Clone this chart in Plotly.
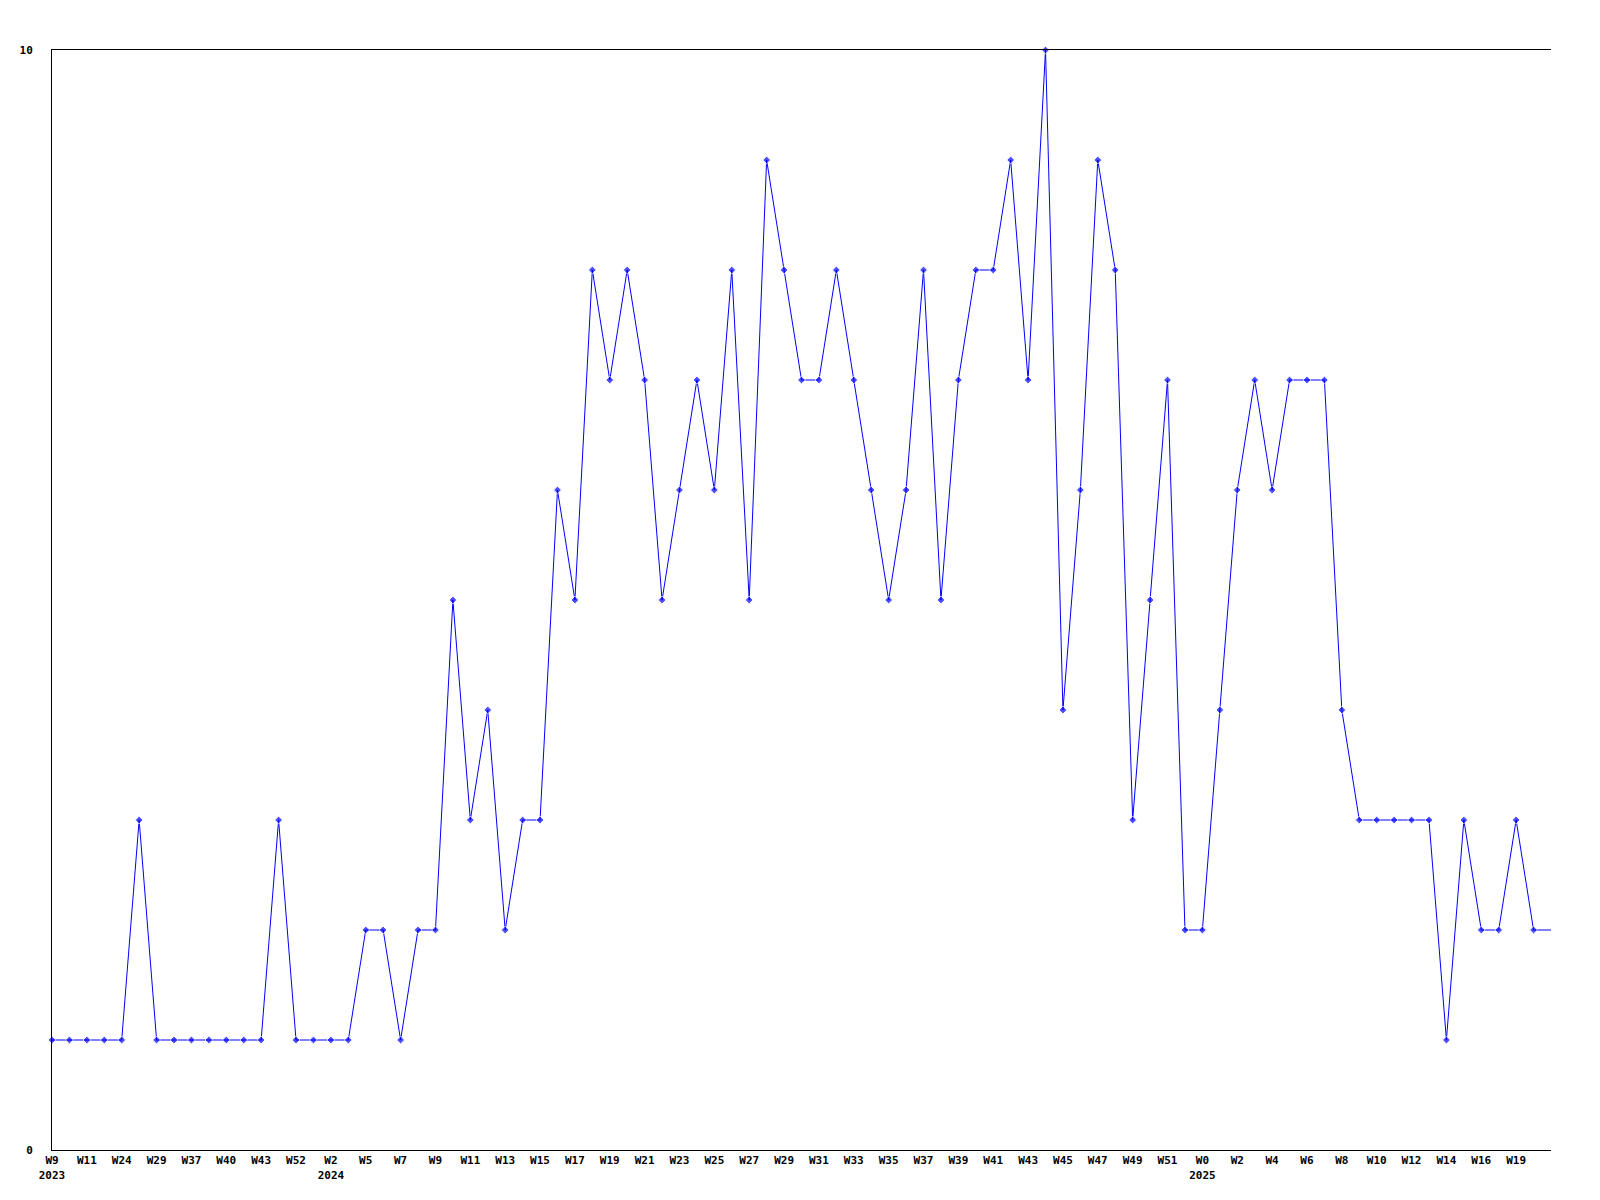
import plotly.graph_objects as go

# Week categories (one per data point); unlabeled ones are estimates
weeks = [
    "W9", "W10", "W11", "W20", "W24", "W26", "W29", "W33", "W37", "W38",
    "W40", "W41", "W43", "W44", "W52", "W1", "W2", "W4", "W5", "W6",
    "W7", "W8", "W9", "W10", "W11", "W12", "W13", "W14", "W15", "W16",
    "W17", "W18", "W19", "W20", "W21", "W22", "W23", "W24", "W25", "W26",
    "W27", "W28", "W29", "W30", "W31", "W32", "W33", "W34", "W35", "W36",
    "W37", "W38", "W39", "W40", "W41", "W42", "W43", "W44", "W45", "W46",
    "W47", "W48", "W49", "W50", "W51", "W52", "W0", "W1", "W2", "W3",
    "W4", "W5", "W6", "W7", "W8", "W9", "W10", "W11", "W12", "W13",
    "W14", "W15", "W16", "W18", "W19", "W20", "W21",
]
# Year shown under the first labeled week of each year
year_labels = {0: "2023", 16: "2024", 66: "2025"}

values = [
    1, 1, 1, 1, 1, 3, 1, 1, 1, 1,
    1, 1, 1, 3, 1, 1, 1, 1, 2, 2,
    1, 2, 2, 5, 3, 4, 2, 3, 3, 6,
    5, 8, 7, 8, 7, 5, 6, 7, 6, 8,
    5, 9, 8, 7, 7, 8, 7, 6, 5, 6,
    8, 5, 7, 8, 8, 9, 7, 10, 4, 6,
    9, 8, 3, 5, 7, 2, 2, 4, 6, 7,
    6, 7, 7, 7, 4, 3, 3, 3, 3, 3,
    1, 3, 2, 2, 3, 2, 2,
]

y_ticks = [0, 10]

n = len(values)
x = list(range(n))

tickvals = list(range(0, n - 1, 2))
ticktext = []
for i in tickvals:
    t = weeks[i]
    if i in year_labels:
        t += "<br>" + year_labels[i]
    ticktext.append(t)

marker_sizes = [6] * (n - 1) + [0]

font = dict(family="DejaVu Sans Mono", size=11, color="black", weight="bold")

fig = go.Figure(
    go.Scatter(
        x=x,
        y=values,
        mode="lines+markers",
        line=dict(color="#0000ff", width=1),
        marker=dict(symbol="diamond", size=marker_sizes, color="#0000ff"),
        cliponaxis=False,
        hoverinfo="skip",
    )
)

fig.update_layout(
    width=1600,
    height=1200,
    margin=dict(l=42, r=57, t=42, b=58),
    paper_bgcolor="white",
    plot_bgcolor="white",
    showlegend=False,
    font=font,
)

fig.update_xaxes(
    range=[0, n - 1],
    tickmode="array",
    tickvals=tickvals,
    ticktext=ticktext,
    tickangle=0,
    ticks="",
    showgrid=False,
    zeroline=False,
    showline=True,
    linecolor="black",
    linewidth=1,
    mirror=True,
    tickfont=font,
)

fig.update_yaxes(
    range=[0, 10],
    tickmode="array",
    tickvals=y_ticks,
    ticktext=[str(v) for v in y_ticks],
    ticks="",
    showgrid=False,
    zeroline=False,
    showline=True,
    linecolor="black",
    linewidth=1,
    mirror=False,
    tickfont=font,
    ticklabelstandoff=16,
)

fig.write_html("out.html")
